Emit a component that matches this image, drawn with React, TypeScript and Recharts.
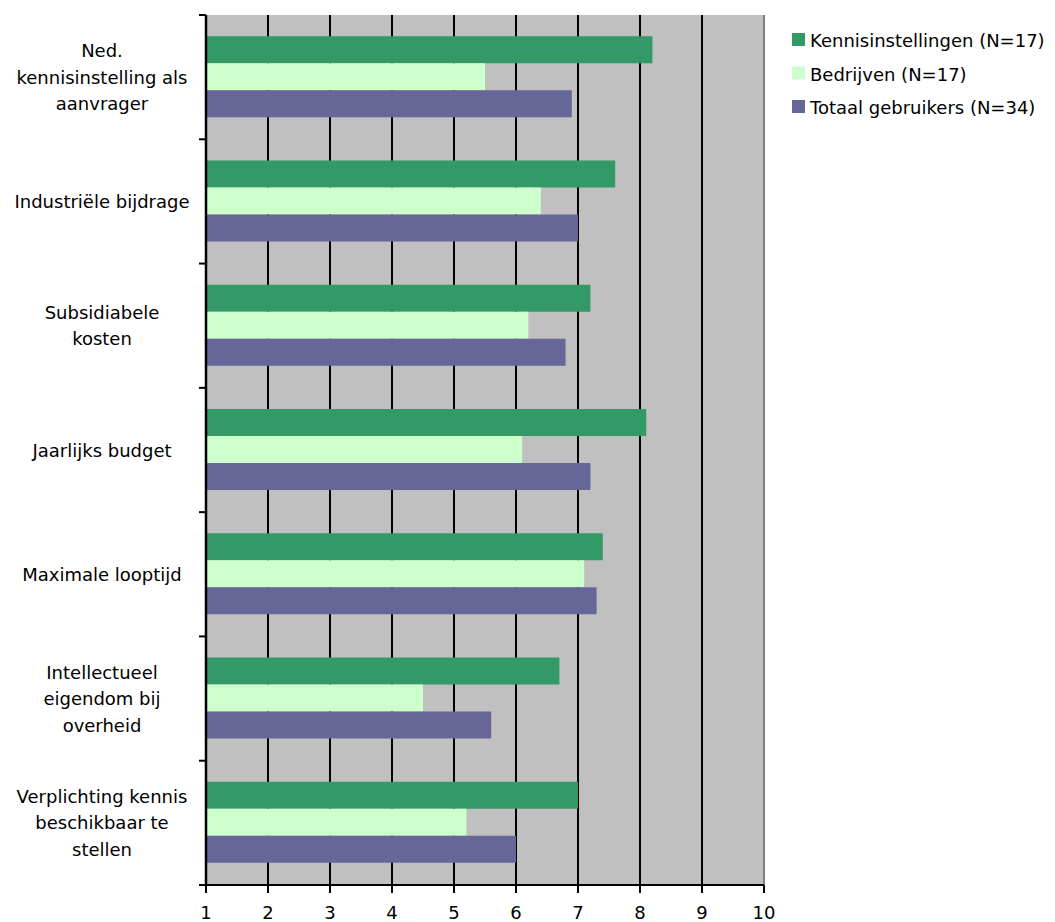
import React from "react";
import { Bar, BarChart, CartesianGrid, ReferenceLine, XAxis, YAxis } from "recharts";

// categories (line breaks as in the original labels)
const categories = [
  "Ned.\nkennisinstelling als\naanvrager",
  "Industriële bijdrage",
  "Subsidiabele\nkosten",
  "Jaarlijks budget",
  "Maximale looptijd",
  "Intellectueel\neigendom bij\noverheid",
  "Verplichting kennis\nbeschikbaar te\nstellen",
];

const kennisinstellingen = [8.2, 7.6, 7.2, 8.1, 7.4, 6.7, 7.0];
const bedrijven = [5.5, 6.4, 6.2, 6.1, 7.1, 4.5, 5.2];
const totaal = [6.9, 7.0, 6.8, 7.2, 7.3, 5.6, 6.0];

const xTicks = [1, 2, 3, 4, 5, 6, 7, 8, 9, 10];

const series = [
  { key: "kennis", label: "Kennisinstellingen (N=17)", color: "#339966" },
  { key: "bedrijven", label: "Bedrijven (N=17)", color: "#CCFFCC" },
  { key: "totaal", label: "Totaal gebruikers (N=34)", color: "#666699" },
];

const data = categories.map((name, i) => ({
  name,
  kennis: kennisinstellingen[i],
  bedrijven: bedrijven[i],
  totaal: totaal[i],
}));

const W = 1055;
const H = 922;
const TOP = 15;
const LEFT = 206;
const RIGHT = 764;
const BOTTOM = 885;
const BAND = (BOTTOM - TOP) / categories.length;
const FONT = "'DejaVu Sans', Arial, sans-serif";
const LINE_H = 26.5;

function CategoryTick(props: any) {
  const { y, payload, index } = props;
  const lines = String(payload.value).split("\n");
  const first = -((lines.length - 1) / 2) * LINE_H;
  return (
    <g>
      <line x1={LEFT - 7} x2={LEFT} y1={y - BAND / 2} y2={y - BAND / 2} stroke="#000" strokeWidth={2} />
      {index === categories.length - 1 && (
        <line x1={LEFT - 7} x2={LEFT} y1={y + BAND / 2} y2={y + BAND / 2} stroke="#000" strokeWidth={2} />
      )}
      <text x={102} y={y} textAnchor="middle" fontSize={18} fontFamily={FONT} fill="#000">
        {lines.map((l, i) => (
          <tspan key={i} x={102} dy={i === 0 ? first + 6.5 : LINE_H}>
            {l}
          </tspan>
        ))}
      </text>
    </g>
  );
}

export default function App() {
  return (
    <div style={{ position: "absolute", left: 0, top: 0, width: W, height: H, background: "#fff" }}>
      <BarChart
        width={W}
        height={H}
        data={data}
        layout="vertical"
        margin={{ top: TOP, right: W - RIGHT, bottom: 0, left: 0 }}
        barCategoryGap="17%"
        barGap={0}
      >
        <CartesianGrid horizontal={false} vertical stroke="#000" strokeWidth={2} fill="#C0C0C0" fillOpacity={1} />
        <XAxis
          type="number"
          domain={[1, 10]}
          ticks={xTicks}
          interval={0}
          height={H - BOTTOM}
          tickSize={8}
          tickMargin={13}
          axisLine={{ stroke: "#000", strokeWidth: 2 }}
          tickLine={{ stroke: "#000", strokeWidth: 2 }}
          tick={{ fill: "#000", fontSize: 18, fontFamily: FONT }}
        />
        <XAxis
          xAxisId="top"
          orientation="top"
          type="number"
          domain={[1, 10]}
          height={0}
          tick={false}
          tickLine={false}
          axisLine={{ stroke: "#808080", strokeWidth: 2 }}
        />
        <YAxis
          type="category"
          dataKey="name"
          width={LEFT}
          interval={0}
          tickLine={false}
          tickSize={0}
          axisLine={{ stroke: "#000", strokeWidth: 2.5 }}
          tick={<CategoryTick />}
        />
        <ReferenceLine x={10} stroke="#808080" strokeWidth={2} />
        {series.map((s) => (
          <Bar key={s.key} dataKey={s.key} fill={s.color} isAnimationActive={false} />
        ))}
      </BarChart>
      <svg style={{ position: "absolute", left: 780, top: 20 }} width={275} height={110}>
        {series.map((s, i) => (
          <g key={s.key}>
            <rect x={12} y={13 + i * 33.5} width={13} height={13} fill={s.color} />
            <text x={30} y={27 + i * 33.5} fontSize={18} fontFamily={FONT} fill="#000">
              {s.label}
            </text>
          </g>
        ))}
      </svg>
    </div>
  );
}
